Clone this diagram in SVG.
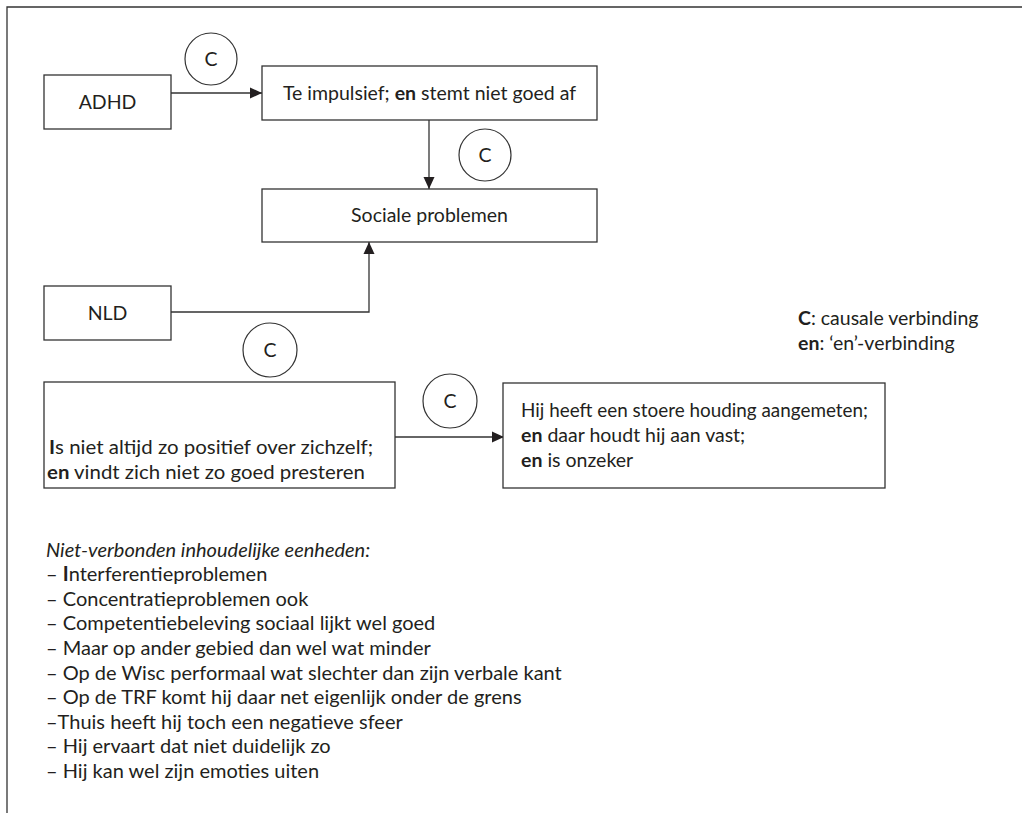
<svg xmlns="http://www.w3.org/2000/svg" width="1022" height="813" viewBox="0 0 1022 813">
<style>
  text { font-family: Lato, "Open Sans", "Liberation Sans", sans-serif; font-size: 19.5px; fill: #231f20; }
  #list text { font-size: 20px; }
  .box { fill: #fff; stroke: #333; stroke-width: 1.3; }
  .circ { fill: #fff; stroke: #333; stroke-width: 1.2; }
  .conn { fill: none; stroke: #333; stroke-width: 1.3; }
  .b { font-weight: bold; }
  .mid { text-anchor: middle; }
</style>
<defs>
  <marker id="arr" markerUnits="userSpaceOnUse" markerWidth="12" markerHeight="12" viewBox="0 0 12 12" refX="12" refY="6" orient="auto">
    <path d="M0,0.5 L12,6 L0,11.5 Z" fill="#231f20"/>
  </marker>
</defs>
<rect width="1022" height="813" fill="#fff"/>
<path d="M7,813 L7,7 L1022,7" fill="none" stroke="#333" stroke-width="1.3"/>

<g id="connectors">
  <path class="conn" d="M171,93 L262,93" marker-end="url(#arr)"/>
  <path class="conn" d="M429,120 L429,189" marker-end="url(#arr)"/>
  <path class="conn" d="M171,312 L369,312 L369,242" marker-end="url(#arr)"/>
  <path class="conn" d="M395,437 L504,437" marker-end="url(#arr)"/>
</g>

<g id="c1"><circle class="circ" cx="211" cy="59" r="26"/><text class="mid" x="211" y="66">C</text></g>
<g id="c2"><circle class="circ" cx="485" cy="155" r="26"/><text class="mid" x="485" y="162">C</text></g>
<g id="c3"><circle class="circ" cx="270" cy="350" r="27"/><text class="mid" x="270" y="357">C</text></g>
<g id="c4"><circle class="circ" cx="450" cy="401" r="27"/><text class="mid" x="450" y="408">C</text></g>

<g id="adhd"><rect class="box" x="44" y="75" width="127" height="54"/><text class="mid" x="107.5" y="109">ADHD</text></g>
<g id="impulsief"><rect class="box" x="262" y="66" width="335" height="54"/><text class="mid" x="429.5" y="100">Te impulsief; <tspan class="b">en</tspan> stemt niet goed af</text></g>
<g id="sociale"><rect class="box" x="262" y="189" width="335" height="53"/><text class="mid" x="429.5" y="222">Sociale problemen</text></g>
<g id="nld"><rect class="box" x="44" y="286" width="127" height="54"/><text class="mid" x="107.5" y="320">NLD</text></g>
<g id="positief"><rect class="box" x="44" y="382" width="351" height="106"/>
  <text x="49" y="454" textLength="324" lengthAdjust="spacingAndGlyphs"><tspan class="b">I</tspan>s niet altijd zo positief over zichzelf;</text>
  <text x="47" y="479" textLength="318" lengthAdjust="spacingAndGlyphs"><tspan class="b">en</tspan> vindt zich niet zo goed presteren</text>
</g>
<g id="stoere"><rect class="box" x="503" y="383" width="382" height="105"/>
  <text x="521" y="417" textLength="347" lengthAdjust="spacingAndGlyphs">Hij heeft een stoere houding aangemeten;</text>
  <text x="521" y="442"><tspan class="b">en</tspan> daar houdt hij aan vast;</text>
  <text x="521" y="467"><tspan class="b">en</tspan> is onzeker</text>
</g>
<g id="legend">
  <text x="798" y="325"><tspan class="b">C</tspan>: causale verbinding</text>
  <text x="798" y="350"><tspan class="b">en</tspan>: ‘en’-verbinding</text>
</g>
<g id="list">
  <text x="46" y="557" font-style="italic">Niet-verbonden inhoudelijke eenheden:</text>
  <text x="46" y="581">– <tspan class="b">I</tspan>nterferentieproblemen</text>
  <text x="46" y="606">– Concentratieproblemen ook</text>
  <text x="46" y="630">– Competentiebeleving sociaal lijkt wel goed</text>
  <text x="46" y="655">– Maar op ander gebied dan wel wat minder</text>
  <text x="46" y="680">– Op de Wisc performaal wat slechter dan zijn verbale kant</text>
  <text x="46" y="704">– Op de TRF komt hij daar net eigenlijk onder de grens</text>
  <text x="46" y="729">–Thuis heeft hij toch een negatieve sfeer</text>
  <text x="46" y="753">– Hij ervaart dat niet duidelijk zo</text>
  <text x="46" y="778">– Hij kan wel zijn emoties uiten</text>
</g>
</svg>
